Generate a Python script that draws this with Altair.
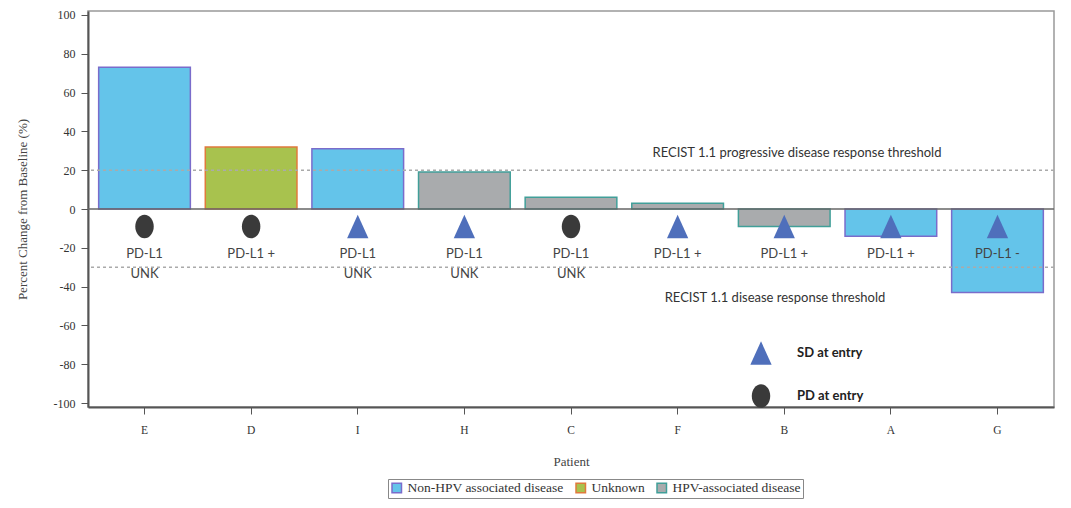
import altair as alt
import pandas as pd

patients = ["E", "D", "I", "H", "C", "F", "B", "A", "G"]
pct_change = [73, 32, 31, 19, 6, 3, -9, -14, -43]
disease = [
    "Non-HPV associated disease", "Unknown", "Non-HPV associated disease",
    "HPV-associated disease", "HPV-associated disease", "HPV-associated disease",
    "HPV-associated disease", "Non-HPV associated disease", "Non-HPV associated disease",
]
entry = ["PD at entry", "PD at entry", "SD at entry", "SD at entry", "PD at entry",
         "SD at entry", "SD at entry", "SD at entry", "SD at entry"]
pdl1 = ["PD-L1\nUNK", "PD-L1 +", "PD-L1\nUNK", "PD-L1\nUNK", "PD-L1\nUNK",
        "PD-L1 +", "PD-L1 +", "PD-L1 +", "PD-L1 -"]

disease_order = ["Non-HPV associated disease", "Unknown", "HPV-associated disease"]
fill_colors = ["#64C4EA", "#A8C24E", "#A9ABAD"]
stroke_colors = ["#7A6CCB", "#E07A3C", "#419F99"]
entry_order = ["SD at entry", "PD at entry"]
entry_colors = ["#4F6FBB", "#3A3A3A"]
tri_path = "M0,-1L0.9,1L-0.9,1Z"
ell_path = "M0,-1A0.78,1 0 1,1 0,1A0.78,1 0 1,1 0,-1Z"

thresholds = [20, -30]
y_ticks = [-100, -80, -60, -40, -20, 0, 20, 40, 60, 80, 100]

df = pd.DataFrame({"patient": patients, "pct": pct_change, "disease": disease,
                   "entry": entry, "label": pdl1})
thr_df = pd.DataFrame({"pct": thresholds})

Y_TITLE = "Percent Change from Baseline (%)"
x_enc = alt.X(
    "patient:N", sort=patients,
    scale=alt.Scale(paddingInner=0.14, paddingOuter=0.1),
    axis=alt.Axis(title="Patient", labelAngle=0, labelFont="Liberation Serif",
                  labelFontSize=11.5, labelColor="#333", titleFont="Liberation Serif",
                  titleFontSize=13, titleFontWeight="normal", titleColor="#444",
                  tickSize=7, tickColor="#555", labelPadding=10, titlePadding=20,
                  domainColor="#555", domainWidth=2),
)
y_scale = alt.Scale(domain=[-102, 102], nice=False, zero=True)
y_axis = alt.Axis(values=y_ticks, title=Y_TITLE, labelOverlap=False, tickCount=11,
                  labelExpr="datum.value + ''",
                  labelFont="Liberation Serif", labelFontSize=12, labelColor="#333",
                  titleFont="Liberation Serif", titleFontSize=13, titleFontWeight="normal",
                  titleColor="#444", tickSize=7, tickColor="#555", labelPadding=6,
                  titlePadding=24, domainColor="#555", domainWidth=2, grid=False)

leg_bottom = alt.Legend(title=None, orient="none", legendX=300, legendY=468,
                        direction="horizontal",
                        strokeColor="#888", padding=2, labelFont="Liberation Serif",
                        labelFontSize=13.5, labelColor="#333", symbolType="square",
                        symbolSize=90, symbolStrokeWidth=1.5, columnPadding=9)

bars = alt.Chart(df).mark_bar(strokeWidth=1.5).encode(
    x=x_enc,
    y=alt.Y("pct:Q", scale=y_scale, axis=y_axis, title=Y_TITLE),
    fill=alt.Fill("disease:N", scale=alt.Scale(domain=disease_order, range=fill_colors),
                  legend=leg_bottom),
    stroke=alt.Stroke("disease:N", scale=alt.Scale(domain=disease_order, range=stroke_colors),
                      legend=leg_bottom),
)

zero = alt.Chart(pd.DataFrame({"pct": [0]})).mark_rule(color="#666", strokeWidth=1.5).encode(
    y=alt.Y("pct:Q", scale=y_scale, axis=y_axis, title=Y_TITLE))

rules = alt.Chart(thr_df).mark_rule(strokeDash=[3, 3], color="#AAAAAA", strokeWidth=1.5).encode(
    y=alt.Y("pct:Q", scale=y_scale, axis=y_axis, title=Y_TITLE))

leg_shape = alt.Legend(title=None, orient="none", legendX=661, legendY=330,
                       labelFont="Lato", labelFontWeight="bold", labelFontSize=13,
                       labelColor="#222", symbolSize=560, rowPadding=19, labelOffset=24,
                       symbolStrokeWidth=0)

markers = alt.Chart(df).mark_point(filled=True, size=560, opacity=1).encode(
    x=x_enc,
    y=alt.YDatum(-9, scale=y_scale, axis=y_axis, title=Y_TITLE),
    shape=alt.Shape("entry:N", scale=alt.Scale(domain=entry_order, range=[tri_path, ell_path]),
                    legend=leg_shape),
    color=alt.Color("entry:N", scale=alt.Scale(domain=entry_order, range=entry_colors),
                    legend=leg_shape),
)

labels = alt.Chart(df).mark_text(lineBreak="\n", baseline="top", font="Lato", fontSize=13,
                                 color="#444", lineHeight=20).encode(
    x=x_enc, y=alt.YDatum(-20, scale=y_scale, axis=y_axis, title=Y_TITLE), text="label:N")

txt_prog = alt.Chart(pd.DataFrame({"pct": [thresholds[0]],
                                   "t": ["RECIST 1.1 progressive disease response threshold"]})
                     ).mark_text(font="Lato", fontSize=13, color="#333", dy=-17).encode(
    x=alt.value(709), y=alt.Y("pct:Q", scale=y_scale, axis=y_axis, title=Y_TITLE),
    text="t:N")

txt_resp = alt.Chart(pd.DataFrame({"pct": [thresholds[1]],
                                   "t": ["RECIST 1.1 disease response threshold"]})
                     ).mark_text(font="Lato", fontSize=13, color="#333", dy=31).encode(
    x=alt.value(687), y=alt.Y("pct:Q", scale=y_scale, axis=y_axis, title=Y_TITLE),
    text="t:N")

chart = alt.layer(bars, zero, rules, markers, labels, txt_prog, txt_resp).properties(
    width=966, height=396
).configure(
    padding={"left": 8, "top": 0, "right": 0, "bottom": 0}
).configure_view(stroke="#999", strokeWidth=1.5)

chart.save("out.html", embed_options={"renderer": "svg", "actions": False})
